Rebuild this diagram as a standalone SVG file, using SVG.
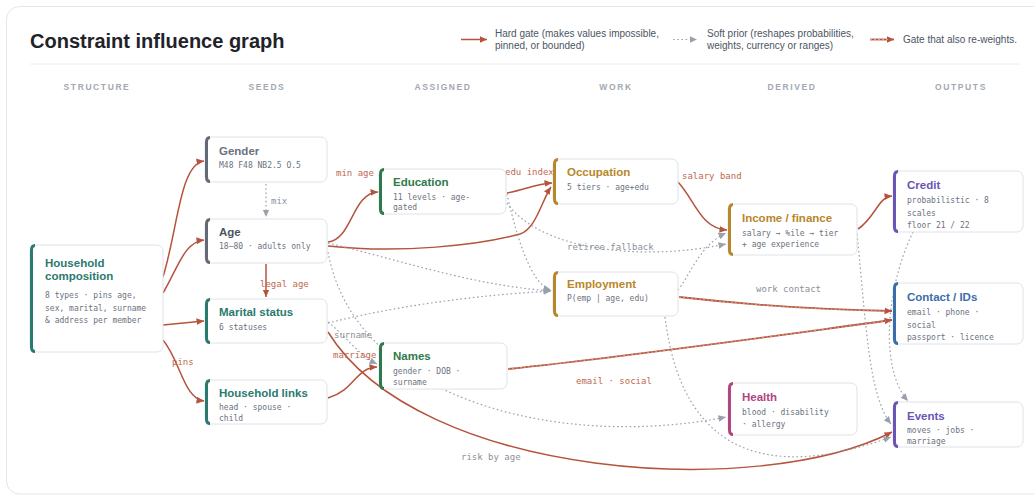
<svg xmlns="http://www.w3.org/2000/svg" width="1034" height="495" viewBox="0 0 1034 495">
<defs>
<marker id="ar" viewBox="0 0 8 8" refX="7.5" refY="4" markerWidth="8" markerHeight="8" markerUnits="userSpaceOnUse" orient="auto"><path d="M0,0.6 L7.5,4 L0,7.4 z" fill="#b5533c"/></marker>
<marker id="ag" viewBox="0 0 8 8" refX="7.5" refY="4" markerWidth="8" markerHeight="8" markerUnits="userSpaceOnUse" orient="auto"><path d="M0,0.6 L7.5,4 L0,7.4 z" fill="#9aa1ab"/></marker>
</defs>
<style>
.card{fill:#fff;stroke:#e3e5ea;stroke-width:1}
.title{font-family:"Liberation Sans",Arial,sans-serif;font-size:20px;font-weight:700;fill:#1f2329}
.leg{font-family:"Liberation Sans",Arial,sans-serif;font-size:10px;fill:#4b5563}
.col{font-family:"Liberation Sans",Arial,sans-serif;font-size:8.5px;font-weight:700;fill:#a3a8b0;letter-spacing:1.6px;text-anchor:middle}
.box{fill:#fff;stroke:#dfe2e8;stroke-width:1}
.bar{fill:none;stroke-width:3;stroke-linecap:butt}
.nt{font-family:"Liberation Sans",Arial,sans-serif;font-size:11.5px;font-weight:700}
.nd{font-family:"DejaVu Sans Mono","Liberation Mono",monospace;font-size:8px;fill:#6b7280}
.hard{fill:none;stroke:#b5533c;stroke-width:1.5;marker-end:url(#ar)}
.rw{fill:none;stroke:#b5533c;stroke-width:1.8;marker-end:url(#ar)}
.rwo{fill:none;stroke:#e9b9ad;stroke-width:0.7;stroke-dasharray:2 2}
.soft{fill:none;stroke:#9aa1ab;stroke-width:1.2;stroke-dasharray:1.6 2.6;marker-end:url(#ag)}
.lr{font-family:"DejaVu Sans Mono","Liberation Mono",monospace;font-size:9px;fill:#c0684f}
.lg{font-family:"DejaVu Sans Mono","Liberation Mono",monospace;font-size:9px;fill:#8a9099}
.teal{stroke:#2b7a6f}.tealf{fill:#2b7a6f}
.slate{stroke:#636a76}
.green{stroke:#2f7a4a}.greenf{fill:#2f7a4a}
.gold{stroke:#b8862b}.goldf{fill:#b8862b}
.purple{stroke:#6a55b5}.purplef{fill:#6a55b5}
.blue{stroke:#3b6ea8}.bluef{fill:#3b6ea8}
.mag{stroke:#b0457f}.magf{fill:#b0457f}
</style>
<rect x="0" y="0" width="1034" height="495" fill="#fff"/>
<rect class="card" x="6.5" y="6.5" width="1040" height="487.5" rx="13"/>
<text class="title" x="30" y="48">Constraint influence graph</text>
<line x1="30" y1="64" x2="1020" y2="64" stroke="#eceef1" stroke-width="1"/>
<g id="legend">
<line x1="461" y1="39.5" x2="487" y2="39.5" class="hard"/>
<text class="leg" x="495" y="37">Hard gate (makes values impossible,</text>
<text class="leg" x="495" y="49">pinned, or bounded)</text>
<line x1="673" y1="39.5" x2="697" y2="39.5" class="soft"/>
<text class="leg" x="707" y="37">Soft prior (reshapes probabilities,</text>
<text class="leg" x="707" y="49">weights, currency or ranges)</text>
<line x1="870" y1="39.5" x2="894" y2="39.5" class="rw"/>
<line x1="870" y1="39.5" x2="889" y2="39.5" class="rwo"/>
<text class="leg" x="903" y="43">Gate that also re-weights.</text>
</g>
<g id="columns">
<text class="col" x="97" y="90">STRUCTURE</text>
<text class="col" x="267" y="90">SEEDS</text>
<text class="col" x="443" y="90">ASSIGNED</text>
<text class="col" x="616" y="90">WORK</text>
<text class="col" x="792" y="90">DERIVED</text>
<text class="col" x="961" y="90">OUTPUTS</text>
</g>
<g id="edges">
<path class="hard" d="M163,277 C178,228 180,164 204,161"/>
<path class="hard" d="M163,293 C178,268 184,242 204,240"/>
<path class="hard" d="M163,325 L204,321"/>
<path class="hard" d="M163,340 C180,360 184,399 204,401"/>
<path class="soft" d="M266,184 L266,217"/>
<path class="hard" d="M266,264 L266,297"/>
<path class="hard" d="M328,242 C352,240 352,193 378,192"/>
<path class="hard" d="M328,246 C400,254 480,245 520,234 C536,229 542,200 551,187"/>
<path class="hard" d="M507,193 C525,190 535,184 552,183"/>
<path class="hard" d="M678,182 C695,200 700,228 727,230"/>
<path class="hard" d="M858,229 C875,218 878,197 892,196"/>
<path class="rw" d="M679,297 C750,305 820,310 892,311"/>
<path class="rwo" d="M679,297 C750,305 820,310 886,311"/>
<path class="rw" d="M508,369 C640,355 780,335 892,320"/>
<path class="rwo" d="M508,369 C640,355 780,335 886,321"/>
<path class="hard" d="M328,398 C355,390 355,368 377,367"/>
<path class="hard" d="M328,332 C420,480 760,500 892,432"/>
<path class="soft" d="M328,243 C400,260 470,285 551,291"/>
<path class="soft" d="M328,323 C400,305 480,295 551,291"/>
<path class="soft" d="M507,194 C515,230 530,285 551,290"/>
<path class="soft" d="M507,203 C540,250 640,262 726,244"/>
<path class="soft" d="M678,290 C690,275 700,245 726,233"/>
<path class="soft" d="M665,317 C685,480 800,470 891,437"/>
<path class="soft" d="M328,252 C355,400 560,450 726,417"/>
<path class="soft" d="M857,234 C866,320 868,395 891,424"/>
<path class="soft" d="M913,232 C885,290 880,370 908,401"/>
<path class="soft" d="M328,322 C345,335 358,355 377,364"/>
<text class="lg" x="271" y="204">mix</text>
<text class="lr" x="260" y="287">legal age</text>
<text class="lr" x="172" y="365">pins</text>
<text class="lr" x="336" y="176">min age</text>
<text class="lr" x="505" y="175">edu index</text>
<text class="lr" x="682" y="179">salary band</text>
<text class="lg" x="567" y="250">retiree fallback</text>
<text class="lg" x="756" y="292">work contact</text>
<text class="lg" x="334" y="338">surname</text>
<text class="lr" x="333" y="358">marriage</text>
<text class="lr" x="576" y="384">email · social</text>
<text class="lg" x="461" y="460">risk by age</text>
</g>
<g id="household-composition">
<rect class="box" x="30" y="245" width="133" height="107" rx="6"/>
<path class="bar teal" d="M35,245.5 Q31.5,245.5 31.5,250 L31.5,347 Q31.5,351.5 35,351.5"/>
<text class="nt tealf" x="45" y="266.5">Household</text>
<text class="nt tealf" x="45" y="280">composition</text>
<text class="nd" x="45" y="298">8 types · pins age,</text>
<text class="nd" x="45" y="310.5">sex, marital, surname</text>
<text class="nd" x="45" y="323">&amp; address per member</text>
</g>
<g id="gender">
<rect class="box" x="205" y="137" width="122" height="45" rx="6"/>
<path class="bar slate" d="M210,137.5 Q206.5,137.5 206.5,142 L206.5,177 Q206.5,181.5 210,181.5"/>
<text class="nt" fill="#6b7280" x="219" y="155">Gender</text>
<text class="nd" x="219" y="168">M48 F48 NB2.5 O.5</text>
</g>
<g id="age">
<rect class="box" x="205" y="219" width="122" height="44" rx="6"/>
<path class="bar slate" d="M210,219.5 Q206.5,219.5 206.5,224 L206.5,258 Q206.5,262.5 210,262.5"/>
<text class="nt" fill="#4b5563" x="219" y="235.5">Age</text>
<text class="nd" x="219" y="249">18–80 · adults only</text>
</g>
<g id="marital-status">
<rect class="box" x="205" y="299" width="122" height="44" rx="6"/>
<path class="bar teal" d="M210,299.5 Q206.5,299.5 206.5,304 L206.5,338 Q206.5,342.5 210,342.5"/>
<text class="nt tealf" x="219" y="316">Marital status</text>
<text class="nd" x="219" y="329.5">6 statuses</text>
</g>
<g id="household-links">
<rect class="box" x="205" y="380" width="122" height="44" rx="6"/>
<path class="bar teal" d="M210,380.5 Q206.5,380.5 206.5,385 L206.5,419 Q206.5,423.5 210,423.5"/>
<text class="nt tealf" x="219" y="396.5">Household links</text>
<text class="nd" x="219" y="410">head · spouse ·</text>
<text class="nd" x="219" y="420.5">child</text>
</g>
<g id="education">
<rect class="box" x="379" y="169" width="127" height="45" rx="6"/>
<path class="bar green" d="M384,169.5 Q380.5,169.5 380.5,174 L380.5,209 Q380.5,213.5 384,213.5"/>
<text class="nt greenf" x="393" y="186">Education</text>
<text class="nd" x="393" y="199.5">11 levels · age-</text>
<text class="nd" x="393" y="210">gated</text>
</g>
<g id="names">
<rect class="box" x="379" y="343" width="128" height="46" rx="6"/>
<path class="bar green" d="M384,343.5 Q380.5,343.5 380.5,348 L380.5,384 Q380.5,388.5 384,388.5"/>
<text class="nt greenf" x="393" y="360">Names</text>
<text class="nd" x="393" y="374">gender · DOB ·</text>
<text class="nd" x="393" y="384.5">surname</text>
</g>
<g id="occupation">
<rect class="box" x="553" y="159" width="125" height="45" rx="6"/>
<path class="bar gold" d="M558,159.5 Q554.5,159.5 554.5,164 L554.5,199 Q554.5,203.5 558,203.5"/>
<text class="nt goldf" x="567" y="176">Occupation</text>
<text class="nd" x="567" y="189.5">5 tiers · age+edu</text>
</g>
<g id="employment">
<rect class="box" x="553" y="272" width="125" height="44" rx="6"/>
<path class="bar gold" d="M558,272.5 Q554.5,272.5 554.5,277 L554.5,311 Q554.5,315.5 558,315.5"/>
<text class="nt goldf" x="567" y="288">Employment</text>
<text class="nd" x="567" y="301">P(emp | age, edu)</text>
</g>
<g id="income-finance">
<rect class="box" x="728" y="204" width="129" height="51" rx="6"/>
<path class="bar gold" d="M733,204.5 Q729.5,204.5 729.5,209 L729.5,250 Q729.5,254.5 733,254.5"/>
<text class="nt goldf" x="742" y="221.5">Income / finance</text>
<text class="nd" x="742" y="235.5">salary → %ile → tier</text>
<text class="nd" x="742" y="247">+ age experience</text>
</g>
<g id="health">
<rect class="box" x="728" y="383" width="129" height="52" rx="6"/>
<path class="bar mag" d="M733,383.5 Q729.5,383.5 729.5,388 L729.5,430 Q729.5,434.5 733,434.5"/>
<text class="nt magf" x="742" y="400.5">Health</text>
<text class="nd" x="742" y="415">blood · disability</text>
<text class="nd" x="742" y="426.5">· allergy</text>
</g>
<g id="credit">
<rect class="box" x="893" y="171" width="130" height="61" rx="6"/>
<path class="bar purple" d="M898,171.5 Q894.5,171.5 894.5,176 L894.5,227 Q894.5,231.5 898,231.5"/>
<text class="nt purplef" x="907" y="188.5">Credit</text>
<text class="nd" x="907" y="203">probabilistic · 8</text>
<text class="nd" x="907" y="215.5">scales</text>
<text class="nd" x="907" y="228">floor 21 / 22</text>
</g>
<g id="contact-ids">
<rect class="box" x="893" y="283" width="130" height="61" rx="6"/>
<path class="bar blue" d="M898,283.5 Q894.5,283.5 894.5,288 L894.5,339 Q894.5,343.5 898,343.5"/>
<text class="nt bluef" x="907" y="300.5">Contact / IDs</text>
<text class="nd" x="907" y="315">email · phone ·</text>
<text class="nd" x="907" y="327.5">social</text>
<text class="nd" x="907" y="340">passport · licence</text>
</g>
<g id="events">
<rect class="box" x="893" y="402" width="130" height="45" rx="6"/>
<path class="bar purple" d="M898,402.5 Q894.5,402.5 894.5,407 L894.5,442 Q894.5,446.5 898,446.5"/>
<text class="nt purplef" x="907" y="419.5">Events</text>
<text class="nd" x="907" y="433">moves · jobs ·</text>
<text class="nd" x="907" y="443.5">marriage</text>
</g>
</svg>
